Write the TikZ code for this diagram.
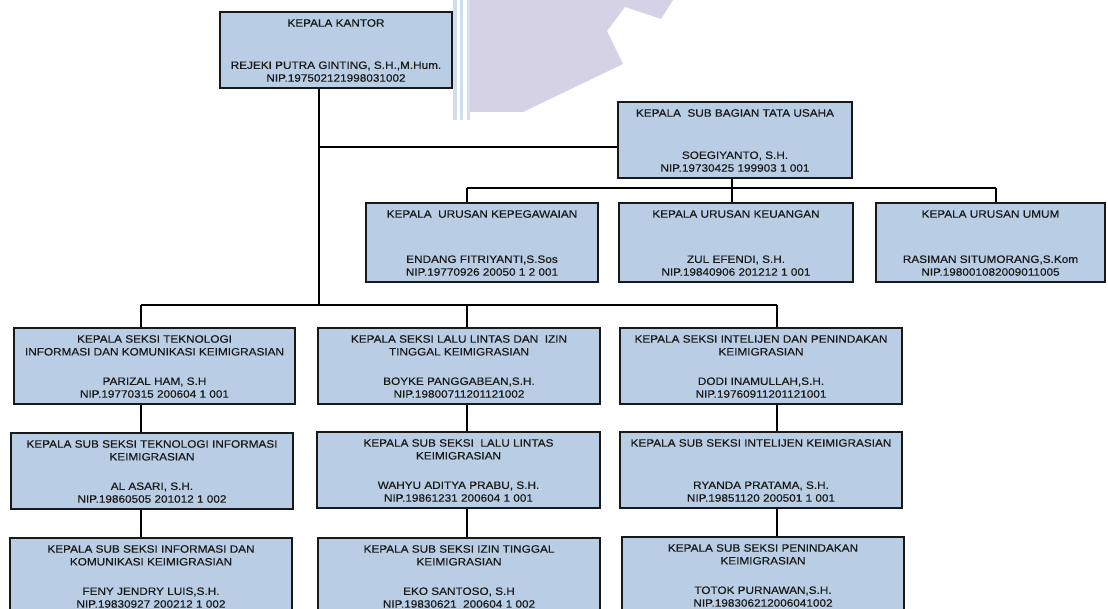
\documentclass[tikz,border=0pt]{standalone}
\usepackage{fontspec}
\setmainfont[FakeStretch=1.1,FakeBold=0.35]{Liberation Sans}
\usetikzlibrary{fit}
\definecolor{boxfill}{RGB}{185,205,229}
\definecolor{boxline}{RGB}{25,25,25}
\definecolor{wmlav}{RGB}{213,210,230}
\definecolor{wmblue}{RGB}{208,222,240}
\tikzset{
  box/.style={draw=boxline, line width=2pt, fill=boxfill, inner sep=0pt},
  txt/.style={align=center, inner sep=0pt, font=\fontsize{10.7}{12.8}\selectfont, text=black!90},
  link/.style={draw=black, line width=1.5pt},
}
\newcommand{\orgbox}[7]{%
  \node[box, fit={(#2,#3) (#4,#5)}] (#1) {};
  \node[txt, anchor=north] (#1-t) at ([yshift=-8pt]#1.north) {#6};
  \node[txt, anchor=south] (#1-b) at ([yshift=7pt]#1.south) {#7};
}
\begin{document}
\begin{tikzpicture}[x=1pt,y=-1pt]
\clip (0,0) rectangle (1108,609);
\fill[white] (0,0) rectangle (1108,609);
% faint watermark
\fill[wmlav] (470,0) -- (673,0) -- (661,19) -- (625,7) -- (607,31) -- (623,64)
  -- (523,112) -- (470,112) -- cycle;
\fill[wmblue] (453,0) rectangle (457,120);
\fill[wmblue] (460,0) rectangle (463,120);
\fill[wmblue] (467,0) rectangle (470,120);

% boxes
\orgbox{kantor}{220}{12}{452}{88}{KEPALA KANTOR}{REJEKI PUTRA GINTING, S.H.,M.Hum.\\NIP.197502121998031002}
\orgbox{tu}{618}{102}{852}{178}{KEPALA~ SUB BAGIAN TATA USAHA}{SOEGIYANTO, S.H.\\NIP.19730425 199903 1 001}
\orgbox{peg}{366}{203}{598}{282}{KEPALA~ URUSAN KEPEGAWAIAN}{ENDANG FITRIYANTI,S.Sos\\NIP.19770926 20050 1 2 001}
\orgbox{keu}{619}{203}{853}{282}{KEPALA URUSAN KEUANGAN}{ZUL EFENDI, S.H.\\NIP.19840906 201212 1 001}
\orgbox{umum}{876}{203}{1105}{282}{KEPALA URUSAN UMUM}{RASIMAN SITUMORANG,S.Kom\\NIP.198001082009011005}

\orgbox{tik}{14}{328}{295}{404}{KEPALA SEKSI TEKNOLOGI\\INFORMASI DAN KOMUNIKASI KEIMIGRASIAN}{PARIZAL HAM, S.H\\NIP.19770315 200604 1 001}
\orgbox{lantas}{318}{328}{600}{404}{KEPALA SEKSI LALU LINTAS DAN~ IZIN\\TINGGAL KEIMIGRASIAN}{BOYKE PANGGABEAN,S.H.\\NIP.19800711201121002}
\orgbox{intel}{620}{328}{902}{404}{KEPALA SEKSI INTELIJEN DAN PENINDAKAN\\KEIMIGRASIAN}{DODI INAMULLAH,S.H.\\NIP.19760911201121001}

\orgbox{subti}{11}{433}{293}{509}{KEPALA SUB SEKSI TEKNOLOGI INFORMASI\\KEIMIGRASIAN}{AL ASARI, S.H.\\NIP.19860505 201012 1 002}
\orgbox{sublantas}{317}{432}{600}{508}{KEPALA SUB SEKSI~ LALU LINTAS\\KEIMIGRASIAN}{WAHYU ADITYA PRABU, S.H.\\NIP.19861231 200604 1 001}
\orgbox{subintel}{620}{432}{902}{508}{KEPALA SUB SEKSI INTELIJEN KEIMIGRASIAN}{RYANDA PRATAMA, S.H.\\NIP.19851120 200501 1 001}

\orgbox{subik}{10}{538}{292}{614}{KEPALA SUB SEKSI INFORMASI DAN\\KOMUNIKASI KEIMIGRASIAN}{FENY JENDRY LUIS,S.H.\\NIP.19830927 200212 1 002}
\orgbox{subizin}{318}{538}{600}{614}{KEPALA SUB SEKSI IZIN TINGGAL\\KEIMIGRASIAN}{EKO SANTOSO, S.H\\NIP.19830621~ 200604 1 002}
\orgbox{subpen}{622}{537}{904}{613}{KEPALA SUB SEKSI PENINDAKAN\\KEIMIGRASIAN}{TOTOK PURNAWAN,S.H.\\NIP.198306212006041002}

% connectors
\coordinate (trunk) at (319,305);
\coordinate (tuj) at (319,147);
\coordinate (ubus) at (732,188);
\coordinate (pegj) at (467,188);
\coordinate (umj) at (996,188);
\coordinate (c1) at (141,305);
\coordinate (c2) at (467,305);
\coordinate (c3) at (777,305);

\draw[link] (kantor.south -| trunk) -- (trunk);
\draw[link] (tuj) -- (tuj -| tu.west);
\draw[link] (tu.south -| ubus) -- (keu.north -| ubus);
\draw[link] (pegj) -- (umj);
\draw[link] (pegj) -- (pegj |- peg.north);
\draw[link] (umj) -- (umj |- umum.north);

\draw[link] (c1) -- (c3);
\draw[link] (c1) -- (c1 |- tik.north);
\draw[link] (c1 |- tik.south) -- (c1 |- subti.north);
\draw[link] (c1 |- subti.south) -- (c1 |- subik.north);
\draw[link] (c2) -- (c2 |- lantas.north);
\draw[link] (c2 |- lantas.south) -- (c2 |- sublantas.north);
\draw[link] (c2 |- sublantas.south) -- (c2 |- subizin.north);
\draw[link] (c3) -- (c3 |- intel.north);
\draw[link] (c3 |- intel.south) -- (c3 |- subintel.north);
\draw[link] (c3 |- subintel.south) -- (c3 |- subpen.north);
\end{tikzpicture}
\end{document}
